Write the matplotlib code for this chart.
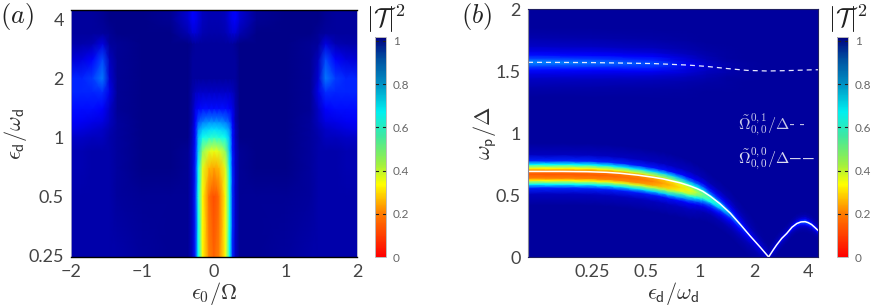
import numpy as np
import matplotlib
matplotlib.use('Agg')
import matplotlib.pyplot as plt
from matplotlib.cm import ScalarMappable
from matplotlib.colors import LinearSegmentedColormap, Normalize

# panel a (right half, mirrored about zero)
x_abs_a = [0, 0.07, 0.16, 0.22, 0.26, 0.30, 0.36, 0.6, 1.0, 1.35, 1.46, 1.56, 1.7, 1.85, 2.0]
eps_a = [0.245, 0.5, 0.7, 0.85, 1.0, 1.1, 1.2, 1.4, 1.7, 2.0, 2.5, 3.0, 3.4, 4.0, 4.45]
T_a = [
    [.16, .20, .33, .65, .85, .93, .98, .98, .97, .96, .96, .96, .96, .96, .96],
    [.12, .17, .33, .62, .84, .93, .98, .98, .98, .97, .96, .96, .96, .96, .96],
    [.24, .26, .36, .66, .85, .93, .98, .99, .99, .97, .96, .96, .96, .95, .95],
    [.35, .37, .45, .70, .86, .93, .98, .99, .99, .97, .96, .96, .96, .95, .95],
    [.58, .60, .63, .72, .87, .94, .99, .99, .99, .97, .96, .94, .94, .93, .93],
    [.68, .69, .71, .76, .87, .94, .99, .99, .99, .97, .95, .93, .92, .91, .90],
    [.76, .76, .78, .81, .88, .95, .99, .99, .99, .97, .94, .91, .90, .89, .885],
    [.87, .87, .87, .88, .90, .95, .99, .99, .99, .98, .93, .88, .87, .87, .87],
    [.93, .93, .93, .93, .94, .96, .99, .99, .99, .98, .90, .84, .85, .85, .85],
    [.97, .97, .97, .97, .97, .97, .99, .99, .99, .98, .92, .78, .83, .85, .85],
    [.97, .97, .97, .97, .97, .97, .99, .99, .99, .98, .94, .82, .88, .91, .92],
    [.97, .97, .97, .97, .97, .98, .99, .99, .99, .98, .97, .91, .95, .96, .96],
    [.96, .96, .95, .93, .92, .92, .95, .99, .99, .99, .98, .97, .97, .97, .97],
    [.95, .95, .94, .91, .89, .88, .92, .98, .99, .99, .99, .98, .97, .97, .97],
    [.95, .95, .94, .91, .89, .88, .92, .98, .99, .99, .99, .98, .97, .97, .97],
]

# panel b, white lines
eps_line = [0.11, 0.17, 0.235, 0.3, 0.36, 0.45, 0.547, 0.62, 0.68, 0.78, 0.88, 0.96, 1.035, 1.14, 1.29,
            1.47, 1.67, 1.9, 2.16, 2.41, 2.55, 2.67, 2.85, 3.04, 3.25, 3.46, 3.65, 3.85, 4.0, 4.18, 4.35, 4.54]
omega_line = [0.69, 0.69, 0.688, 0.683, 0.675, 0.66, 0.643, 0.63, 0.617, 0.597, 0.573, 0.552, 0.53, 0.49, 0.43,
              0.355, 0.265, 0.17, 0.08, 0.0, 0.055, 0.097, 0.15, 0.19, 0.24, 0.27, 0.283, 0.285, 0.277, 0.262, 0.24, 0.215]
eps_dash = [0.11, 0.25, 0.547, 0.85, 1.09, 1.41, 1.83, 2.37, 3.05, 4.3, 4.54]
omega_dash = [1.57, 1.568, 1.56, 1.548, 1.537, 1.52, 1.505, 1.5, 1.503, 1.51, 1.51]

# panel b, lower band: columns along eps, rows by distance from the band centre
eps_band = [0.11, 0.25, 0.5, 0.7, 0.88, 1.14, 1.47, 1.9, 2.41, 3.04, 3.85, 4.54]
shift_band = [0.023, 0.023, 0.03, 0.035, 0.035, 0.02, 0.005, 0, 0, 0, 0, 0]
width_band = [1, 1, 1, 1, 0.95, 0.8, 0.75, 0.7, 0.6, 0.5, 0.55, 0.5]
dist_band = [0, 0.03, 0.05, 0.08, 0.11, 0.16, 0.25]
T_band = [
    [.14, .20, .33, .65, .85, .94, .97],
    [.14, .20, .33, .65, .85, .94, .97],
    [.18, .22, .38, .68, .86, .94, .97],
    [.26, .30, .45, .70, .87, .94, .97],
    [.34, .42, .60, .78, .88, .94, .97],
    [.55, .65, .78, .85, .90, .95, .97],
    [.75, .80, .86, .89, .92, .95, .97],
    [.88, .90, .91, .93, .95, .96, .97],
    [.92, .93, .94, .95, .96, .97, .97],
    [.88, .90, .93, .95, .96, .97, .97],
    [.80, .85, .90, .94, .96, .97, .97],
    [.85, .88, .92, .95, .96, .97, .97],
]

# panel b, upper band
eps_top = [0.11, 0.5, 0.7, 1.0, 1.5, 2.2, 4.54]
dist_top = [0, 0.03, 0.06, 0.09, 0.13, 0.2, 0.28]
T_top = [
    [.76, .82, .87, .90, .93, .955, .97],
    [.80, .84, .88, .91, .94, .96, .97],
    [.85, .88, .90, .93, .95, .965, .97],
    [.92, .93, .94, .95, .96, .97, .97],
    [.96, .96, .965, .97, .97, .97, .97],
    [.97, .97, .97, .97, .97, .97, .97],
    [.97, .97, .97, .97, .97, .97, .97],
]

cbar_ticks = [0, 0.2, 0.4, 0.6, 0.8, 1]
cbar_labels = ['0', '0.2', '0.4', '0.6', '0.8', '1']

plt.rcParams['font.family'] = ['Lato', 'DejaVu Sans']
plt.rcParams['mathtext.fontset'] = 'cm'

image_cmap = LinearSegmentedColormap.from_list('image', [
    (0, '#ff0000'), (0.2, '#ff8000'), (0.33, '#ffff00'), (0.5, '#60ff90'),
    (0.65, '#00ffff'), (0.76, '#0090ff'), (0.88, '#0000ff'), (1, '#000080')])
bar_cmap = LinearSegmentedColormap.from_list('bar', [
    (0, '#ff0000'), (0.2, '#ff8000'), (0.33, '#ffff00'), (0.42, '#a0f040'), (0.55, '#40e8a0'),
    (0.66, '#00f0f0'), (0.8, '#0088c0'), (0.9, '#0050a0'), (1, '#000080')])
norm = Normalize(0, 1)

W, H = 872, 306
fig = plt.figure(figsize=(W / 100, H / 100), dpi=100)

def px_axes(left, top, right, bottom):
    return fig.add_axes([left / W, 1 - bottom / H, (right - left) / W, (bottom - top) / H])

def style_ticks(ax):
    ax.tick_params(which='both', length=0, labelsize=13, labelcolor='#444444', pad=5)
    ax.minorticks_off()

def add_cbar(left, right):
    cax = px_axes(left, 37, right, 257)
    # the bar runs a little past 1 in the original
    cb = fig.colorbar(ScalarMappable(norm=Normalize(0, 1.0185), cmap=bar_cmap), cax=cax)
    cb.set_ticks(cbar_ticks, labels=cbar_labels)
    cax.tick_params(length=0, labelsize=8.5, labelcolor='#666666', pad=5)
    for t in cbar_ticks[1:]:
        cax.plot([0, 0.25], [t, t], color='#222222', lw=0.8, transform=cax.get_yaxis_transform())
        cax.plot([0.75, 1], [t, t], color='#222222', lw=0.8, transform=cax.get_yaxis_transform())
    for s in cax.spines.values():
        s.set_color('#bbbbbb')
        s.set_linewidth(0.7)
    fig.text(right / W, 1 - 19 / H, r'$|\mathcal{T}|^2$', fontsize=18.5,
             ha='center', va='center', color='#222222')

def warped_mesh(ax, eps, center, dist, width, table):
    # table rows go along eps, columns by distance; mirrored below the centre
    dist = np.array(dist)
    offs = np.concatenate([-dist[::-1], dist[1:]])
    T = np.array(table)
    T_mesh = np.hstack([T[:, ::-1], T[:, 1:]]).T
    X, O = np.meshgrid(eps, offs)
    ax.pcolormesh(X, center + O * width, T_mesh, cmap=image_cmap, norm=norm, shading='gouraud')

def along(eps_to, eps_from, values):
    return np.interp(np.log(eps_to), np.log(eps_from), values)

# panel a
ax = px_axes(71, 10, 357, 257)
x_a = np.array(x_abs_a)
x_full = np.concatenate([-x_a[::-1], x_a[1:]])
T = np.array(T_a)
T_full = np.hstack([T[:, ::-1], T[:, 1:]])
ax.set_yscale('log', base=2)
ax.pcolormesh(x_full, eps_a, T_full, cmap=image_cmap, norm=norm, shading='gouraud')
ax.set_xlim(-2, 2)
ax.set_ylim(0.245, 4.45)
ax.set_xticks([-2, -1, 0, 1, 2], labels=['\u22122', '\u22121', '0', '1', '2'])
ax.set_yticks([0.25, 0.5, 1, 2, 4], labels=['0.25', '0.5', '1', '2', '4'])
style_ticks(ax)
ax.set_xlabel(r'$\epsilon_{\mathsf{0}}/\Omega$', fontsize=16, color='#333333', labelpad=0)
ax.set_ylabel(r'$\epsilon_{\mathsf{d}}/\omega_{\mathsf{d}}$', fontsize=16, color='#333333', labelpad=0)
for name, s in ax.spines.items():
    s.set_color('black' if name in ('top', 'bottom') else '#aaaacc')
    s.set_linewidth(1.0 if name in ('top', 'bottom') else 0.6)
add_cbar(375, 386)
fig.text(16.5 / W, 1 - 16 / H, r'$(a)$', fontsize=19, ha='center', va='center', color='#222222')

# panel b
ax = px_axes(528, 9, 818, 257)
ax.set_xscale('log', base=2)
ax.set_facecolor(image_cmap(0.97))

# band columns follow the white line, the table columns are spread along it
cols = np.array(T_band).T
T_low = np.array([along(eps_line, eps_band, c) for c in cols]).T
center_low = np.array(omega_line) - along(eps_line, eps_band, shift_band)
width_low = along(eps_line, eps_band, width_band)
warped_mesh(ax, eps_line, center_low, dist_band, width_low, T_low)

cols = np.array(T_top).T
T_up = np.array([along(eps_dash, eps_top, c) for c in cols]).T
warped_mesh(ax, eps_dash, np.array(omega_dash), dist_top, 1, T_up)

ax.plot(eps_line, omega_line, color='white', lw=1.1)
ax.plot(eps_dash, omega_dash, color='#e8e8ff', lw=0.9, dashes=(4, 3.2))

ax.set_xlim(0.11, 4.54)
ax.set_ylim(0, 2)
ax.set_xticks([0.25, 0.5, 1, 2, 4], labels=['0.25', '0.5', '1', '2', '4'])
ax.set_yticks([0, 0.5, 1, 1.5, 2], labels=['0', '0.5', '1', '1.5', '2'])
style_ticks(ax)
ax.set_xlabel(r'$\epsilon_{\mathsf{d}}/\omega_{\mathsf{d}}$', fontsize=16, color='#333333', labelpad=0)
ax.set_ylabel(r'$\omega_{\mathsf{p}}/\Delta$', fontsize=16, color='#333333', labelpad=-2)
ax.text(0.724, 0.532, r'$\tilde{\Omega}^{\mathsf{0,1}}_{\mathsf{0,0}}/\Delta$- -', transform=ax.transAxes,
        fontsize=11.5, color='#c8c8e8', va='center')
ax.text(0.724, 0.395, r'$\tilde{\Omega}^{\mathsf{0,0}}_{\mathsf{0,0}}/\Delta$' + '\u2014\u2014', transform=ax.transAxes,
        fontsize=11.5, color='#dcdcf0', va='center')
for name, s in ax.spines.items():
    s.set_color('#888899' if name == 'left' else '#202060')
    s.set_linewidth(0.8)
add_cbar(837, 848)
fig.text(477 / W, 1 - 16 / H, r'$(b)$', fontsize=19, ha='center', va='center', color='#222222')

fig.savefig('out.png', dpi=100)
